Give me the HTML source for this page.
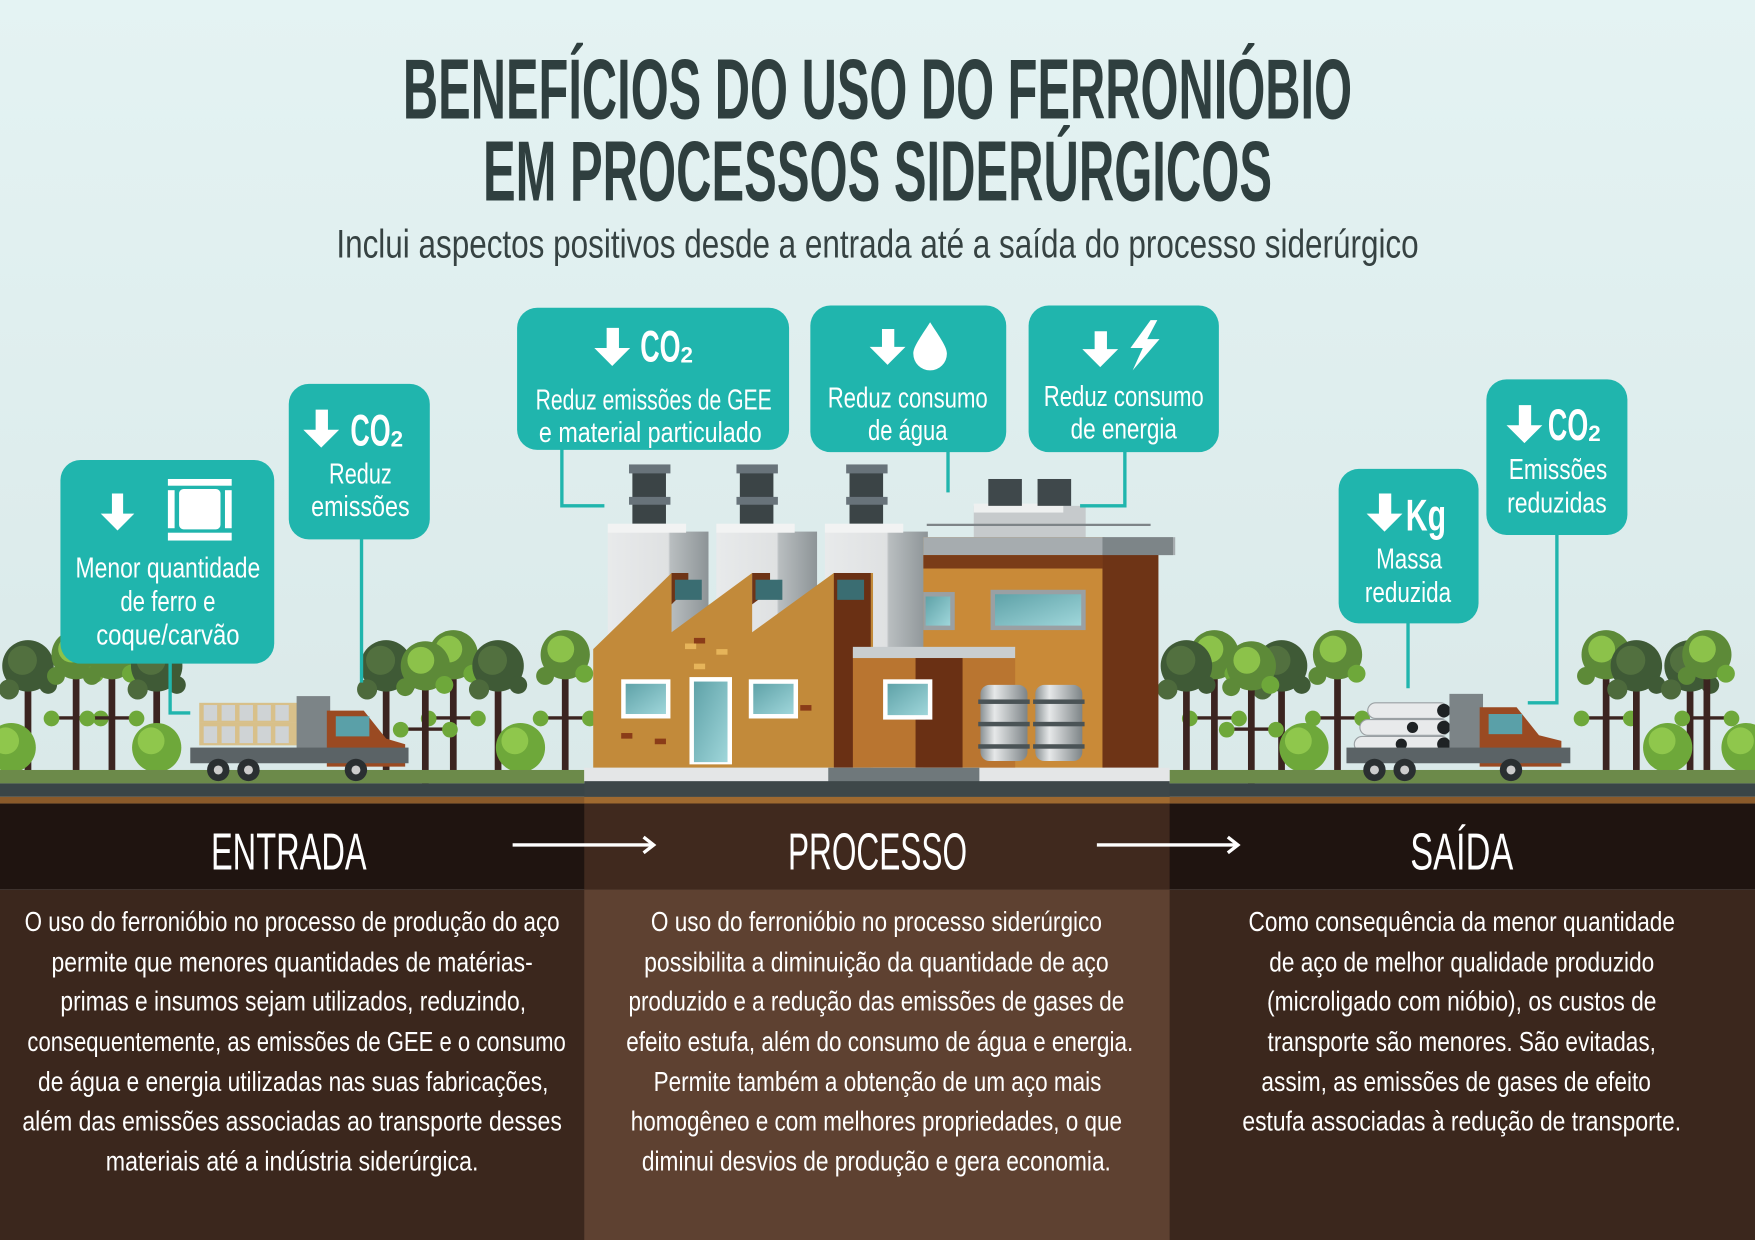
<!DOCTYPE html>
<html><head><meta charset="utf-8"><style>
html,body{margin:0;padding:0;background:#e2f0f0;}
svg{display:block}
text{font-family:"Liberation Sans Narrow","Liberation Sans",sans-serif;}
</style></head><body>
<svg width="1755" height="1240" viewBox="0 0 1568 1108" preserveAspectRatio="none" xmlns="http://www.w3.org/2000/svg">
<defs>
<linearGradient id="sky" x1="0" y1="0" x2="0" y2="1"><stop offset="0" stop-color="#e4f3f3"/><stop offset="1" stop-color="#d4e3e3"/></linearGradient>
<linearGradient id="silo" x1="0" y1="0" x2="1" y2="0"><stop offset="0" stop-color="#e8eaeb"/><stop offset="0.6" stop-color="#dfe1e2"/><stop offset="0.62" stop-color="#b9bec0"/><stop offset="1" stop-color="#8d9497"/></linearGradient>
<linearGradient id="tank" x1="0" y1="0" x2="1" y2="0"><stop offset="0" stop-color="#8a9194"/><stop offset="0.3" stop-color="#e6e8e9"/><stop offset="1" stop-color="#7d8487"/></linearGradient>
<linearGradient id="win" x1="0" y1="0" x2="1" y2="1"><stop offset="0" stop-color="#5fa2a8"/><stop offset="1" stop-color="#9fd6da"/></linearGradient>
<g id="tree">
<rect x="-3" y="-105" width="6" height="105" fill="#3b2420"/>
<circle cx="0" cy="-105" r="22" fill="#5d8a38"/>
<circle cx="-4" cy="-110" r="12" fill="#8cc24a"/>
<circle cx="17" cy="-88" r="8" fill="#6ea83a"/>
<circle cx="-18" cy="-86" r="8" fill="#5d8a38"/>
<rect x="-22" y="-50" width="44" height="3" fill="#3b2420"/>
<circle cx="-22" cy="-48" r="7" fill="#6ea83a"/><circle cx="22" cy="-48" r="7" fill="#6ea83a"/>
</g>
<g id="treeD">
<rect x="-3" y="-95" width="6" height="95" fill="#3b2420"/>
<circle cx="0" cy="-95" r="23" fill="#3f5a36"/>
<circle cx="-5" cy="-100" r="13" fill="#52703f"/>
<circle cx="18" cy="-78" r="8" fill="#3f5a36"/>
<circle cx="-17" cy="-74" r="9" fill="#4d6a3c"/>
</g>
<g id="bush"><circle cx="0" cy="-22" r="22" fill="#6ea83a"/><circle cx="-5" cy="-28" r="12" fill="#8fc74c"/></g>
</defs>
<rect width="1568" height="1108" fill="url(#sky)"/>

<text x="784" y="106" text-anchor="middle" font-size="76" font-weight="bold" fill="#2f3f3f" textLength="848" lengthAdjust="spacingAndGlyphs">BENEFÍCIOS DO USO DO FERRONIÓBIO</text>
<text x="784" y="179" text-anchor="middle" font-size="76" font-weight="bold" fill="#2f3f3f" textLength="705" lengthAdjust="spacingAndGlyphs">EM PROCESSOS SIDERÚRGICOS</text>
<text x="784" y="230" text-anchor="middle" font-size="36" fill="#364242" textLength="967" lengthAdjust="spacingAndGlyphs">Inclui aspectos positivos desde a entrada até a saída do processo siderúrgico</text>

<!-- Trees left -->
<use href="#treeD" x="25" y="690"/><use href="#tree" x="68" y="690"/><use href="#tree" x="100" y="690"/>
<use href="#treeD" x="140" y="690"/><use href="#bush" x="140" y="690"/><use href="#tree" x="405" y="690"/>
<use href="#treeD" x="445" y="690"/><use href="#treeD" x="345" y="690"/><use href="#tree" x="380" y="700"/>
<use href="#tree" x="505" y="690"/><use href="#bush" x="465" y="690"/><use href="#bush" x="10" y="690"/>
<!-- Trees right -->
<use href="#tree" x="1085" y="690"/><use href="#treeD" x="1145" y="690"/><use href="#tree" x="1195" y="690"/>
<use href="#tree" x="1118" y="700"/><use href="#bush" x="1165" y="690"/><use href="#tree" x="1435" y="690"/>
<use href="#treeD" x="1462" y="690"/><use href="#treeD" x="1510" y="690"/><use href="#tree" x="1525" y="690"/>
<use href="#bush" x="1560" y="690"/><use href="#treeD" x="1060" y="690"/><use href="#bush" x="1490" y="690"/>

<!-- grass -->
<rect x="0" y="688" width="522" height="12" fill="#6c8a4a"/>
<rect x="1045" y="688" width="523" height="12" fill="#6c8a4a"/>
<rect x="0" y="700" width="1568" height="12" fill="#3a4547"/>
<rect x="0" y="712" width="1568" height="6" fill="#8a5a2a"/>
<rect x="522" y="712" width="523" height="6" fill="#a06a30"/>

<!-- Left truck -->
<g>
<rect x="178" y="628" width="90" height="18" fill="#d8c08a"/><rect x="178" y="646" width="90" height="20" fill="#d8c08a"/>
<g fill="#cfd3d5"><rect x="182" y="630" width="12" height="14"/><rect x="198" y="630" width="12" height="14"/><rect x="214" y="630" width="12" height="14"/><rect x="230" y="630" width="12" height="14"/><rect x="246" y="630" width="12" height="14"/>
<rect x="182" y="649" width="12" height="15"/><rect x="198" y="649" width="12" height="15"/><rect x="214" y="649" width="12" height="15"/><rect x="230" y="649" width="12" height="15"/><rect x="246" y="649" width="12" height="15"/></g>
<rect x="265" y="622" width="30" height="48" fill="#7c8487"/>
<path d="M292 635 L325 635 L345 660 L362 665 L362 685 L292 685Z" fill="#9a4a22"/>
<rect x="300" y="640" width="30" height="18" fill="#5aa0a8"/>
<rect x="170" y="668" width="195" height="14" fill="#5b6366"/>
<circle cx="195" cy="688" r="10" fill="#2a2f31"/><circle cx="222" cy="688" r="10" fill="#2a2f31"/><circle cx="318" cy="688" r="10" fill="#2a2f31"/>
<circle cx="195" cy="688" r="4" fill="#ccc"/><circle cx="222" cy="688" r="4" fill="#ccc"/><circle cx="318" cy="688" r="4" fill="#ccc"/>
</g>
<!-- Right truck -->
<g>
<g fill="#e8eaeb" stroke="#9aa0a3" stroke-width="1"><rect x="1222" y="628" width="72" height="14" rx="7"/><rect x="1215" y="643" width="80" height="14" rx="7"/><rect x="1210" y="658" width="85" height="14" rx="7"/></g>
<g fill="#1e2224"><circle cx="1290" cy="635" r="6"/><circle cx="1290" cy="650" r="6"/><circle cx="1290" cy="665" r="6"/><circle cx="1262" cy="650" r="5"/><circle cx="1252" cy="665" r="5"/></g>
<rect x="1295" y="620" width="30" height="50" fill="#7c8487"/>
<path d="M1322 632 L1355 632 L1375 657 L1395 662 L1395 685 L1322 685Z" fill="#9a4a22"/>
<rect x="1330" y="638" width="30" height="18" fill="#5aa0a8"/>
<rect x="1203" y="668" width="200" height="14" fill="#5b6366"/>
<circle cx="1228" cy="688" r="10" fill="#2a2f31"/><circle cx="1255" cy="688" r="10" fill="#2a2f31"/><circle cx="1350" cy="688" r="10" fill="#2a2f31"/>
<circle cx="1228" cy="688" r="4" fill="#ccc"/><circle cx="1255" cy="688" r="4" fill="#ccc"/><circle cx="1350" cy="688" r="4" fill="#ccc"/>
</g>

<!-- Factory -->
<g>
<g fill="#3b4446"><rect x="565" y="420" width="30" height="48"/><rect x="661" y="420" width="30" height="48"/><rect x="759" y="420" width="30" height="48"/></g>
<g fill="#68737a"><rect x="562" y="415" width="37" height="8"/><rect x="562" y="444" width="37" height="7"/><rect x="658" y="415" width="37" height="8"/><rect x="658" y="444" width="37" height="7"/><rect x="756" y="415" width="37" height="8"/><rect x="756" y="444" width="37" height="7"/></g>
<rect x="543" y="475" width="90" height="210" fill="url(#silo)"/><rect x="640" y="475" width="90" height="210" fill="url(#silo)"/><rect x="737" y="475" width="92" height="210" fill="url(#silo)"/>
<g fill="#f2f3f3"><rect x="543" y="468" width="70" height="8"/><rect x="640" y="468" width="70" height="8"/><rect x="737" y="468" width="70" height="8"/></g>
<rect x="870" y="452" width="100" height="30" fill="#c6cacc"/><rect x="870" y="450" width="80" height="8" fill="#eef0f0"/>
<rect x="883" y="428" width="30" height="24" fill="#3f484b"/><rect x="927" y="428" width="30" height="24" fill="#3f484b"/>
<rect x="828" y="468" width="200" height="2" fill="#7d8487"/>
<rect x="825" y="480" width="162" height="206" fill="#c98a38"/>
<rect x="825" y="480" width="225" height="16" fill="#a6acaf"/>
<rect x="985" y="494" width="50" height="192" fill="#6e3416"/>
<rect x="985" y="480" width="63" height="16" fill="#7d8588"/>
<rect x="825" y="496" width="160" height="12" fill="#7a3c18"/>
<rect x="885" y="527" width="85" height="36" fill="#9aa0a3"/><rect x="889" y="531" width="77" height="28" fill="url(#win)"/>
<rect x="825" y="529" width="28" height="34" fill="#9aa0a3"/><rect x="827" y="533" width="22" height="26" fill="url(#win)"/>
<polygon points="530,580 600,512 600,565 672,512 672,565 745,512 780,512 780,686 530,686" fill="#c28a3a"/>
<polygon points="600,512 615,512 615,525 600,540" fill="#6e3416"/><polygon points="672,512 688,512 688,528 672,540" fill="#6e3416"/>
<rect x="745" y="512" width="33" height="174" fill="#6a3014"/>
<g fill="#3a6d72"><rect x="603" y="518" width="24" height="18"/><rect x="675" y="518" width="24" height="18"/><rect x="748" y="518" width="24" height="18"/></g>
<g fill="#ffffff"><rect x="555" y="607" width="44" height="35"/><rect x="616" y="605" width="38" height="78"/><rect x="669" y="607" width="44" height="35"/></g>
<g fill="url(#win)"><rect x="559" y="611" width="36" height="27"/><rect x="620" y="609" width="30" height="72"/><rect x="673" y="611" width="36" height="27"/></g>
<g fill="#8a3c18"><rect x="555" y="655" width="10" height="5"/><rect x="585" y="660" width="10" height="5"/><rect x="620" y="570" width="10" height="5"/><rect x="715" y="630" width="10" height="5"/></g>
<g fill="#e6b45a"><rect x="640" y="580" width="10" height="5"/><rect x="612" y="575" width="10" height="5"/><rect x="620" y="593" width="10" height="5"/></g>
<rect x="762" y="580" width="145" height="106" fill="#b97530"/>
<rect x="762" y="578" width="145" height="10" fill="#c9ced0"/>
<rect x="818" y="588" width="42" height="98" fill="#6a3014"/>
<rect x="789" y="607" width="44" height="36" fill="#ffffff"/><rect x="793" y="611" width="36" height="28" fill="url(#win)"/>
<rect x="876" y="612" width="42" height="68" rx="8" fill="url(#tank)"/><rect x="925" y="612" width="42" height="68" rx="8" fill="url(#tank)"/>
<g fill="#4a5356"><rect x="874" y="625" width="46" height="4"/><rect x="874" y="645" width="46" height="4"/><rect x="874" y="665" width="46" height="4"/><rect x="923" y="625" width="46" height="4"/><rect x="923" y="645" width="46" height="4"/><rect x="923" y="665" width="46" height="4"/></g>
<rect x="522" y="686" width="523" height="14" fill="#e4e6e7"/>
<rect x="740" y="686" width="135" height="14" fill="#6f787b"/>
<rect x="522" y="698" width="523" height="14" fill="#3e4749"/>
</g>

<rect x="0" y="718" width="1568" height="77" fill="#1f1410"/>
<rect x="522" y="718" width="523" height="77" fill="#40291e"/>
<rect x="0" y="795" width="1568" height="313" fill="#3b271d"/>
<rect x="522" y="795" width="523" height="313" fill="#5e4131"/>

<g fill="#ffffff" text-anchor="middle">
<text x="258" y="777" font-size="46" textLength="139" lengthAdjust="spacingAndGlyphs">ENTRADA</text>
<text x="784" y="777" font-size="46" textLength="160" lengthAdjust="spacingAndGlyphs">PROCESSO</text>
<text x="1306" y="777" font-size="46" textLength="92" lengthAdjust="spacingAndGlyphs">SAÍDA</text>
</g>
<g stroke="#ffffff" stroke-width="3" fill="none"><line x1="458" y1="755" x2="582" y2="755"/><path d="M575 748 L584 755 L575 762"/><line x1="980" y1="755" x2="1104" y2="755"/><path d="M1097 748 L1106 755 L1097 762"/></g>

<g fill="#ffffff" text-anchor="middle" font-size="25">
<text x="261" y="832" textLength="478" lengthAdjust="spacingAndGlyphs">O uso do ferronióbio no processo de produção do aço</text>
<text x="261" y="868" textLength="430" lengthAdjust="spacingAndGlyphs">permite que menores quantidades de matérias-</text>
<text x="262" y="903" textLength="416" lengthAdjust="spacingAndGlyphs">primas e insumos sejam utilizados, reduzindo,</text>
<text x="265" y="939" textLength="481" lengthAdjust="spacingAndGlyphs">consequentemente, as emissões de GEE e o consumo</text>
<text x="262" y="975" textLength="456" lengthAdjust="spacingAndGlyphs">de água e energia utilizadas nas suas fabricações,</text>
<text x="261" y="1010" textLength="482" lengthAdjust="spacingAndGlyphs">além das emissões associadas ao transporte desses</text>
<text x="261" y="1046" textLength="333" lengthAdjust="spacingAndGlyphs">materiais até a indústria siderúrgica.</text>

<text x="783" y="832" textLength="403" lengthAdjust="spacingAndGlyphs">O uso do ferronióbio no processo siderúrgico</text>
<text x="783" y="868" textLength="415" lengthAdjust="spacingAndGlyphs">possibilita a diminuição da quantidade de aço</text>
<text x="783" y="903" textLength="443" lengthAdjust="spacingAndGlyphs">produzido e a redução das emissões de gases de</text>
<text x="786" y="939" textLength="453" lengthAdjust="spacingAndGlyphs">efeito estufa, além do consumo de água e energia.</text>
<text x="784" y="975" textLength="400" lengthAdjust="spacingAndGlyphs">Permite também a obtenção de um aço mais</text>
<text x="783" y="1010" textLength="439" lengthAdjust="spacingAndGlyphs">homogêneo e com melhores propriedades, o que</text>
<text x="783" y="1046" textLength="419" lengthAdjust="spacingAndGlyphs">diminui desvios de produção e gera economia.</text>

<text x="1306" y="832" textLength="381" lengthAdjust="spacingAndGlyphs">Como consequência da menor quantidade</text>
<text x="1306" y="868" textLength="344" lengthAdjust="spacingAndGlyphs">de aço de melhor qualidade produzido</text>
<text x="1306" y="903" textLength="348" lengthAdjust="spacingAndGlyphs">(microligado com nióbio), os custos de</text>
<text x="1306" y="939" textLength="347" lengthAdjust="spacingAndGlyphs">transporte são menores. São evitadas,</text>
<text x="1301" y="975" textLength="348" lengthAdjust="spacingAndGlyphs">assim, as emissões de gases de efeito</text>
<text x="1306" y="1010" textLength="392" lengthAdjust="spacingAndGlyphs">estufa associadas à redução de transporte.</text>
</g>

<g stroke="#20b5ad" stroke-width="3" fill="none">
<path d="M152 590 L152 637 L170 637"/>
<path d="M323 480 L323 610"/>
<path d="M502 400 L502 452 L540 452"/>
<path d="M847 400 L847 440"/>
<path d="M1005 400 L1005 452 L965 452"/>
<path d="M1258 555 L1258 615"/>
<path d="M1391 475 L1391 628 L1365 628"/>
</g>

<g fill="#20b5ad">
<rect x="54" y="411" width="191" height="182" rx="18"/>
<rect x="258" y="343" width="126" height="139" rx="18"/>
<rect x="462" y="275" width="243" height="127" rx="18"/>
<rect x="724" y="273" width="175" height="131" rx="18"/>
<rect x="919" y="273" width="170" height="131" rx="18"/>
<rect x="1196" y="419" width="125" height="138" rx="18"/>
<rect x="1328" y="339" width="126" height="139" rx="18"/>
</g>
<g fill="#ffffff">
<path d="M100 441 h10 v18 h10 l-15 15 l-15 -15 h10z"/>
<path d="M282 366 h11 v18 h10 l-16 16 l-16 -16 h11z"/>
<path d="M542 293 h11 v18 h10 l-16 16 l-16 -16 h11z"/>
<path d="M788 294 h11 v16 h10 l-16 16 l-16 -16 h11z"/>
<path d="M978 296 h11 v16 h10 l-16 16 l-16 -16 h11z"/>
<path d="M1232 441 h11 v18 h10 l-16 16 l-16 -16 h11z"/>
<path d="M1357 362 h11 v18 h10 l-16 16 l-16 -16 h11z"/>
<rect x="150" y="428" width="57" height="6"/><rect x="150" y="476" width="57" height="7"/>
<rect x="150" y="438" width="6" height="34"/><rect x="201" y="438" width="6" height="34"/>
<rect x="160" y="437" width="37" height="36" rx="4"/>
<path d="M831 288 C840 302 846 310 846 316 a15 15 0 0 1 -30 0 C816 310 822 302 831 288Z"/>
<path d="M1028 286 L1010 311 L1021 311 L1012 331 L1036 303 L1025 303 L1034 286Z"/>
</g>
<g fill="#ffffff" font-weight="bold">
<text x="313" y="398" font-size="40" textLength="36" lengthAdjust="spacingAndGlyphs">CO</text><text x="349" y="399" font-size="20">2</text>
<text x="572" y="323" font-size="40" textLength="36" lengthAdjust="spacingAndGlyphs">CO</text><text x="608" y="324" font-size="20">2</text>
<text x="1383" y="393" font-size="40" textLength="36" lengthAdjust="spacingAndGlyphs">CO</text><text x="1419" y="394" font-size="20">2</text>
<text x="1256" y="474" font-size="40" textLength="36" lengthAdjust="spacingAndGlyphs">Kg</text>
</g>
<g fill="#ffffff" text-anchor="middle" font-size="26">
<text x="150" y="516" textLength="165" lengthAdjust="spacingAndGlyphs">Menor quantidade</text>
<text x="150" y="546" textLength="85" lengthAdjust="spacingAndGlyphs">de ferro e</text>
<text x="150" y="576" textLength="128" lengthAdjust="spacingAndGlyphs">coque/carvão</text>
<text x="322" y="432" textLength="56" lengthAdjust="spacingAndGlyphs">Reduz</text>
<text x="322" y="461" textLength="88" lengthAdjust="spacingAndGlyphs">emissões</text>
<text x="584" y="366" textLength="211" lengthAdjust="spacingAndGlyphs">Reduz emissões de GEE</text>
<text x="581" y="395" textLength="199" lengthAdjust="spacingAndGlyphs">e material particulado</text>
<text x="811" y="364" textLength="143" lengthAdjust="spacingAndGlyphs">Reduz consumo</text>
<text x="811" y="393" textLength="71" lengthAdjust="spacingAndGlyphs">de água</text>
<text x="1004" y="363" textLength="143" lengthAdjust="spacingAndGlyphs">Reduz consumo</text>
<text x="1004" y="392" textLength="95" lengthAdjust="spacingAndGlyphs">de energia</text>
<text x="1259" y="508" textLength="59" lengthAdjust="spacingAndGlyphs">Massa</text>
<text x="1258" y="538" textLength="77" lengthAdjust="spacingAndGlyphs">reduzida</text>
<text x="1392" y="428" textLength="88" lengthAdjust="spacingAndGlyphs">Emissões</text>
<text x="1391" y="458" textLength="89" lengthAdjust="spacingAndGlyphs">reduzidas</text>
</g>
</svg>
</body></html>
